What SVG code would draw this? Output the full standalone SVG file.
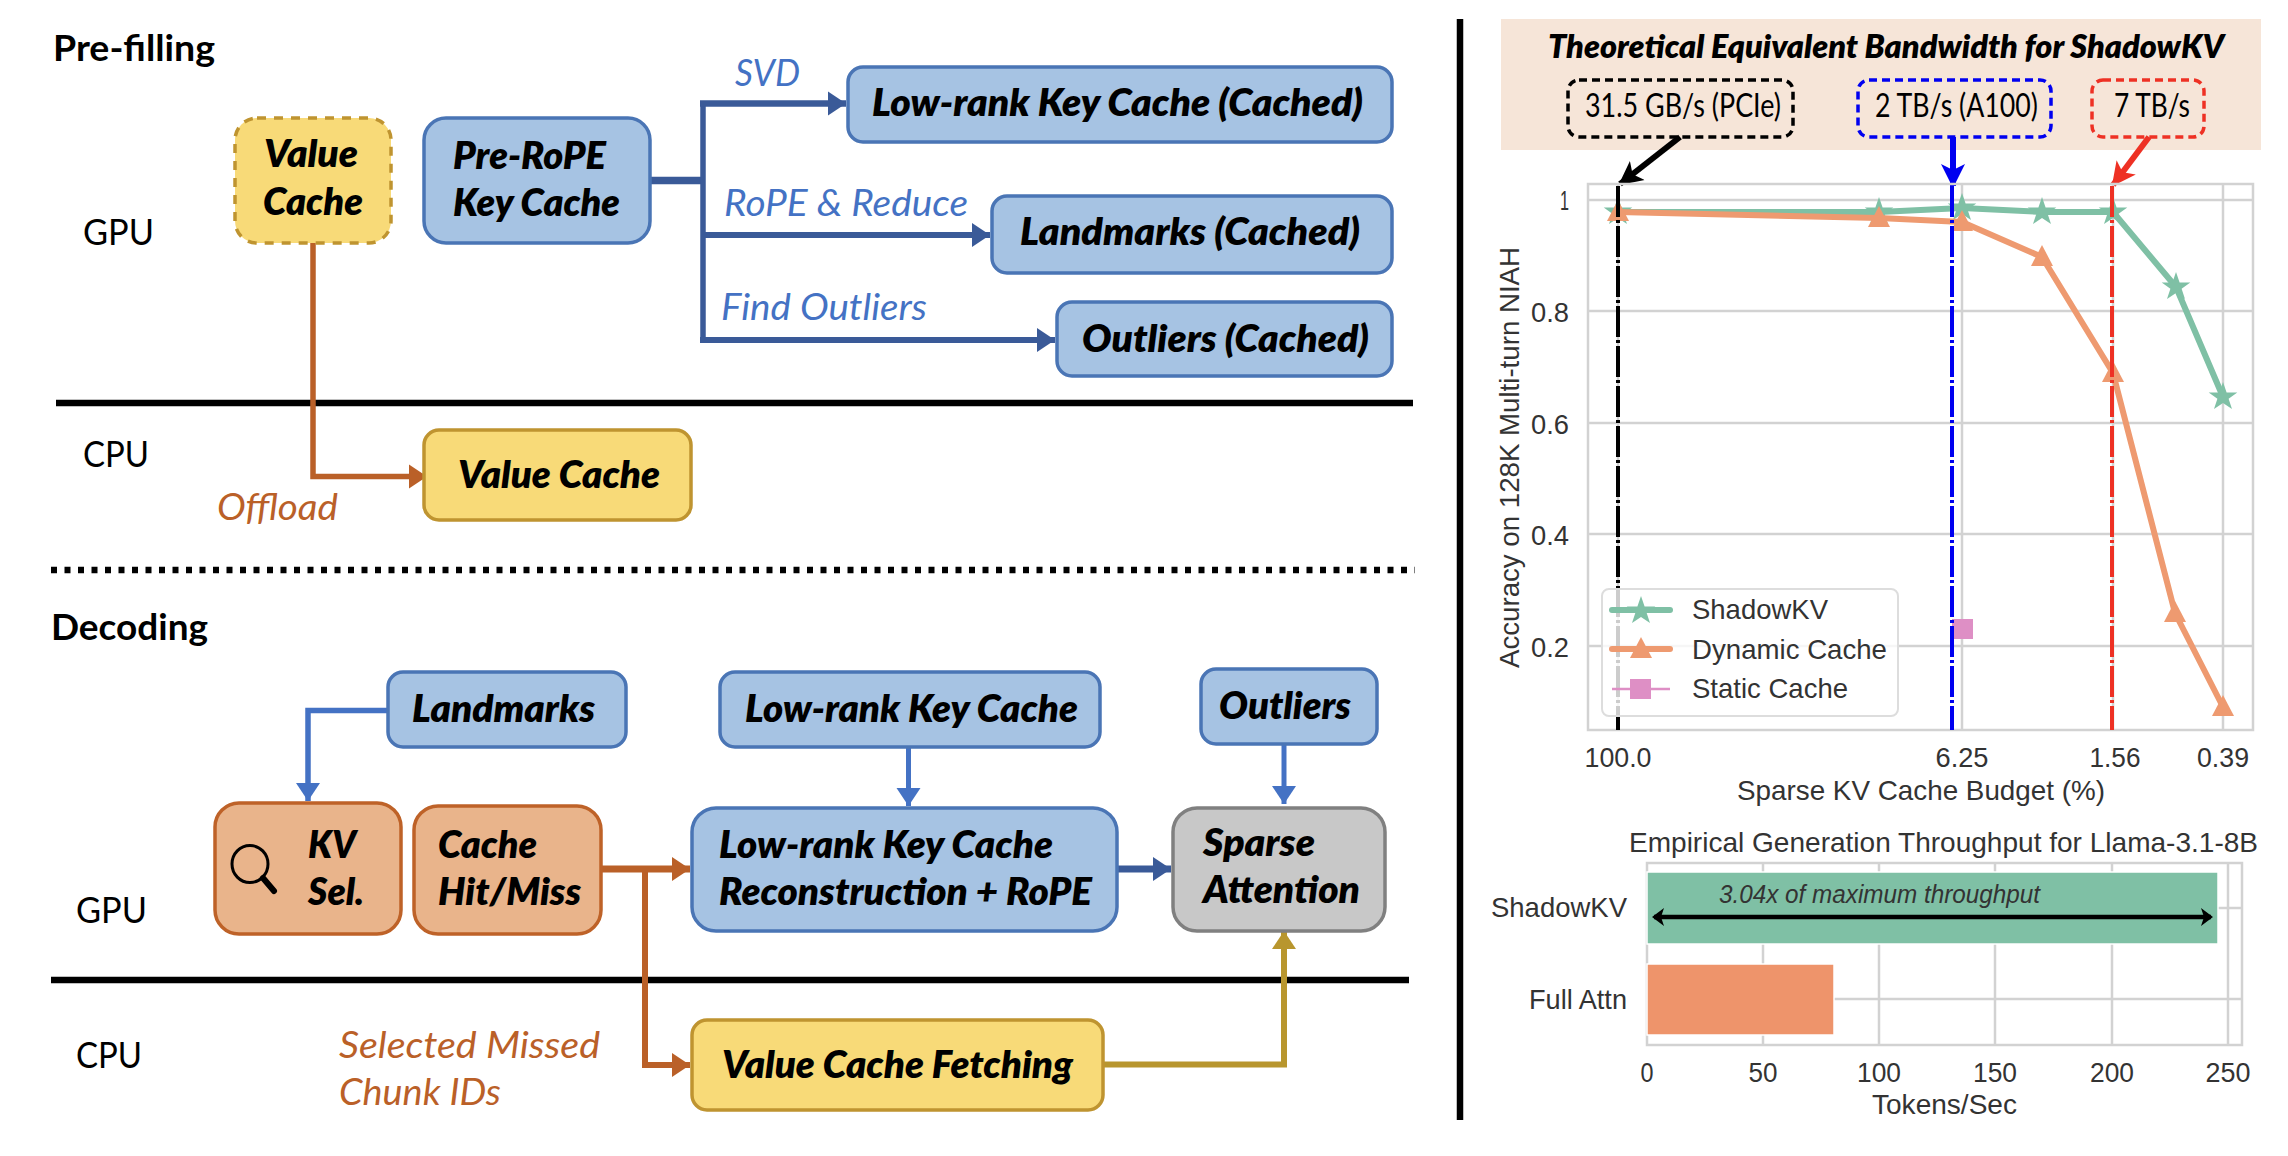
<svg xmlns="http://www.w3.org/2000/svg" width="2288" height="1156" viewBox="0 0 2288 1156">
<style>
text{font-family:Lato,"Open Sans",sans-serif;fill:#000;font-size:36px}
.h{font-weight:700}
.n{font-weight:800;font-style:italic;font-size:37px}
.l{font-style:italic;font-weight:400}
.lb{fill:#4472C4}.lo{fill:#BA6028}
.box{stroke-width:3.5}
.blue{fill:#A6C3E3;stroke:#4A75B5}
.yel{fill:#F8DA78;stroke:#BF9430}
.org{fill:#E9B48B;stroke:#BE6228}
.gry{fill:#C8C8C8;stroke:#808080}
.c{fill:none}
.sep{stroke:#000;stroke-width:6.5}
.p{font-family:"Liberation Sans",Arial,sans-serif;fill:#333;font-size:28px}
.bw{font-size:32px}
.n.bw{font-size:32px}
.grid{stroke:#d2d2d2;stroke-width:2.5;fill:none}
.dd{fill:none;stroke-width:4;stroke-dasharray:31 3 3 3}
.g{stroke:#7FC0A5;stroke-width:6;fill:none;stroke-linejoin:round}
.o{stroke:#EE9A70;stroke-width:6;fill:none;stroke-linejoin:round}
</style>
<defs>
<marker id="ab" markerUnits="userSpaceOnUse" markerWidth="20" markerHeight="26" refX="18" refY="13" orient="auto"><path d="M0 1L18 13L0 25Z" fill="#3A5A98"/></marker>
<marker id="al" markerUnits="userSpaceOnUse" markerWidth="20" markerHeight="26" refX="18" refY="13" orient="auto"><path d="M0 1L18 13L0 25Z" fill="#4472C4"/></marker>
<marker id="ao" markerUnits="userSpaceOnUse" markerWidth="20" markerHeight="26" refX="18" refY="13" orient="auto"><path d="M0 1L18 13L0 25Z" fill="#BA6028"/></marker>
<marker id="ay" markerUnits="userSpaceOnUse" markerWidth="20" markerHeight="26" refX="18" refY="13" orient="auto"><path d="M0 1L18 13L0 25Z" fill="#B8962E"/></marker>
<marker id="ak" markerUnits="userSpaceOnUse" markerWidth="26" markerHeight="26" refX="22" refY="13" orient="auto"><path d="M0 1L24 13L0 25L6 13Z" fill="#000"/></marker>
<marker id="au" markerUnits="userSpaceOnUse" markerWidth="26" markerHeight="26" refX="22" refY="13" orient="auto"><path d="M0 1L24 13L0 25L6 13Z" fill="#0000F0"/></marker>
<marker id="ar" markerUnits="userSpaceOnUse" markerWidth="26" markerHeight="26" refX="22" refY="13" orient="auto"><path d="M0 1L24 13L0 25L6 13Z" fill="#EE3124"/></marker>
<marker id="ad" markerUnits="userSpaceOnUse" markerWidth="14" markerHeight="20" refX="10" refY="10" orient="auto-start-reverse"><path d="M0 1L12 10L0 19L3 10Z" fill="#000"/></marker>
<path id="star" d="M0-15L3.6-4.6L14.3-4.6L5.6 1.8L9 12.1L0 6L-9 12.1L-5.6 1.8L-14.3-4.6L-3.6-4.6Z" fill="#7FC0A5"/>
<path id="tri" d="M0-12L11 9L-11 9Z" fill="#EE9A70"/>
</defs>

<g id="labels-left">
<text class="h" x="53" y="61" textLength="162" lengthAdjust="spacingAndGlyphs">Pre-filling</text>
<text class="h" x="51" y="640" textLength="157" lengthAdjust="spacingAndGlyphs">Decoding</text>
<text x="83" y="245" textLength="71" lengthAdjust="spacingAndGlyphs">GPU</text>
<text x="83" y="467" textLength="66" lengthAdjust="spacingAndGlyphs">CPU</text>
<text x="76" y="923" textLength="71" lengthAdjust="spacingAndGlyphs">GPU</text>
<text x="76" y="1068" textLength="66" lengthAdjust="spacingAndGlyphs">CPU</text>
<text class="l lb" x="735" y="86" textLength="65" lengthAdjust="spacingAndGlyphs">SVD</text>
<text class="l lb" x="724" y="216" textLength="244" lengthAdjust="spacingAndGlyphs">RoPE &amp; Reduce</text>
<text class="l lb" x="721" y="320" textLength="206" lengthAdjust="spacingAndGlyphs">Find Outliers</text>
<text class="l lo" x="217" y="520" textLength="121" lengthAdjust="spacingAndGlyphs">Offload</text>
<text class="l lo" x="339" y="1058" textLength="261" lengthAdjust="spacingAndGlyphs">Selected Missed</text>
<text class="l lo" x="339" y="1105" textLength="162" lengthAdjust="spacingAndGlyphs">Chunk IDs</text>
</g>

<g id="separators">
<line class="sep" x1="56" y1="403" x2="1413" y2="403"/>
<line x1="51" y1="570" x2="1415" y2="570" stroke="#000" stroke-width="6.5" stroke-dasharray="6 7.5"/>
<line class="sep" x1="51" y1="980" x2="1409" y2="980"/>
<line x1="1460" y1="19" x2="1460" y2="1120" stroke="#000" stroke-width="6.5"/>
</g>

<g id="connectors">
<path class="c" d="M650 180.500H703" stroke="#3A5A98" stroke-width="7.500"/>
<path class="c" d="M703 101V343" stroke="#3A5A98" stroke-width="5.500"/>
<path class="c" d="M700 103.500H846" stroke="#3A5A98" stroke-width="6.500" marker-end="url(#ab)"/>
<path class="c" d="M703 235H990" stroke="#3A5A98" stroke-width="6" marker-end="url(#ab)"/>
<path class="c" d="M700 340H1055" stroke="#3A5A98" stroke-width="6" marker-end="url(#ab)"/>
<path class="c" d="M313 243V476.500H427" stroke="#BA6028" stroke-width="5.500" marker-end="url(#ao)"/>
<path class="c" d="M388 710.500H308V801" stroke="#4472C4" stroke-width="5.500" marker-end="url(#al)"/>
<path class="c" d="M908.500 747V806" stroke="#4472C4" stroke-width="5" marker-end="url(#al)"/>
<path class="c" d="M1284 744V804" stroke="#4472C4" stroke-width="5" marker-end="url(#al)"/>
<path class="c" d="M601 869H690" stroke="#BA6028" stroke-width="7" marker-end="url(#ao)"/>
<path class="c" d="M645 869V1065H690" stroke="#BA6028" stroke-width="6" marker-end="url(#ao)"/>
<path class="c" d="M1117 869H1171" stroke="#3A5A98" stroke-width="7" marker-end="url(#ab)"/>
<path class="c" d="M1103 1064.500H1284V931" stroke="#B8962E" stroke-width="6" marker-end="url(#ay)"/>
</g>

<g id="value-cache-gpu"><rect class="box yel" x="235" y="118" width="156" height="125" rx="22" stroke-dasharray="9 8"/>
<text class="n" x="264" y="167" textLength="94" lengthAdjust="spacingAndGlyphs">Value</text><text class="n" x="263" y="215" textLength="100" lengthAdjust="spacingAndGlyphs">Cache</text></g>
<g id="pre-rope"><rect class="box blue" x="424" y="118" width="226" height="125" rx="22"/>
<text class="n" x="453" y="169" textLength="153" lengthAdjust="spacingAndGlyphs">Pre-RoPE</text><text class="n" x="453" y="216" textLength="167" lengthAdjust="spacingAndGlyphs">Key Cache</text></g>
<g id="lowrank-cached"><rect class="box blue" x="848" y="67" width="544" height="75" rx="15"/>
<text class="n" x="872" y="116" textLength="491" lengthAdjust="spacingAndGlyphs">Low-rank Key Cache (Cached)</text></g>
<g id="landmarks-cached"><rect class="box blue" x="992" y="196" width="400" height="77" rx="15"/>
<text class="n" x="1020" y="245" textLength="340" lengthAdjust="spacingAndGlyphs">Landmarks (Cached)</text></g>
<g id="outliers-cached"><rect class="box blue" x="1057" y="302" width="335" height="74" rx="15"/>
<text class="n" x="1082" y="352" textLength="287" lengthAdjust="spacingAndGlyphs">Outliers (Cached)</text></g>
<g id="value-cache-cpu"><rect class="box yel" x="424" y="430" width="267" height="90" rx="15"/>
<text class="n" x="458" y="488" textLength="202" lengthAdjust="spacingAndGlyphs">Value Cache</text></g>

<g id="landmarks"><rect class="box blue" x="388" y="672" width="238" height="75" rx="15"/>
<text class="n" x="412" y="722" textLength="183" lengthAdjust="spacingAndGlyphs">Landmarks</text></g>
<g id="lowrank"><rect class="box blue" x="720" y="672" width="380" height="75" rx="15"/>
<text class="n" x="745" y="722" textLength="333" lengthAdjust="spacingAndGlyphs">Low-rank Key Cache</text></g>
<g id="outliers"><rect class="box blue" x="1201" y="669" width="176" height="75" rx="15"/>
<text class="n" x="1219" y="719" textLength="132" lengthAdjust="spacingAndGlyphs">Outliers</text></g>
<g id="kv-sel"><rect class="box org" x="215" y="803" width="186" height="131" rx="24"/>
<ellipse cx="250" cy="864" rx="18" ry="18.500" fill="none" stroke="#000" stroke-width="3"/>
<line x1="263" y1="878" x2="274" y2="891" stroke="#000" stroke-width="6" stroke-linecap="round"/>
<text class="n" x="308" y="858" textLength="48" lengthAdjust="spacingAndGlyphs">KV</text><text class="n" x="308" y="905" textLength="56" lengthAdjust="spacingAndGlyphs">Sel.</text></g>
<g id="cache-hit-miss"><rect class="box org" x="414" y="806" width="187" height="128" rx="24"/>
<text class="n" x="438" y="858" textLength="99" lengthAdjust="spacingAndGlyphs">Cache</text><text class="n" x="438" y="905" textLength="143" lengthAdjust="spacingAndGlyphs">Hit/Miss</text></g>
<g id="reconstruction"><rect class="box blue" x="692" y="808" width="425" height="123" rx="24"/>
<text class="n" x="719" y="858" textLength="334" lengthAdjust="spacingAndGlyphs">Low-rank Key Cache</text><text class="n" x="719" y="905" textLength="373" lengthAdjust="spacingAndGlyphs">Reconstruction + RoPE</text></g>
<g id="sparse-attention"><rect class="box gry" x="1173" y="808" width="212" height="123" rx="24"/>
<text class="n" x="1203" y="856" textLength="112" lengthAdjust="spacingAndGlyphs">Sparse</text><text class="n" x="1203" y="903" textLength="157" lengthAdjust="spacingAndGlyphs">Attention</text></g>
<g id="value-cache-fetching"><rect class="box yel" x="692" y="1020" width="411" height="90" rx="15"/>
<text class="n" x="722" y="1078" textLength="351" lengthAdjust="spacingAndGlyphs">Value Cache Fetching</text></g>

<g id="bandwidth-panel">
<rect x="1501" y="19" width="760" height="131" fill="#F6E5D8"/>
<text class="n bw" x="1548" y="58" textLength="676" lengthAdjust="spacingAndGlyphs">Theoretical Equivalent Bandwidth for ShadowKV</text>
<rect x="1568" y="80" width="225" height="57" rx="11" fill="none" stroke="#000" stroke-width="3.500" stroke-dasharray="8 5"/>
<rect x="1858" y="80" width="193" height="57" rx="11" fill="none" stroke="#0000F0" stroke-width="3.500" stroke-dasharray="8 5"/>
<rect x="2092" y="80" width="112" height="57" rx="11" fill="none" stroke="#EE3124" stroke-width="3.500" stroke-dasharray="8 5"/>
<text class="bw" x="1585" y="117" textLength="196" lengthAdjust="spacingAndGlyphs">31.5 GB/s (PCIe)</text>
<text class="bw" x="1875" y="117" textLength="163" lengthAdjust="spacingAndGlyphs">2 TB/s (A100)</text>
<text class="bw" x="2114" y="117" textLength="76" lengthAdjust="spacingAndGlyphs">7 TB/s</text>
<path class="c" d="M1680 137L1620 184" stroke="#000" stroke-width="6" marker-end="url(#ak)"/>
<path class="c" d="M1953 137V186" stroke="#0000F0" stroke-width="6" marker-end="url(#au)"/>
<path class="c" d="M2149 137L2113 185" stroke="#EE3124" stroke-width="6" marker-end="url(#ar)"/>
</g>

<g id="line-chart">
<rect class="grid" x="1588" y="184" width="665" height="546"/>
<path class="grid" d="M1588 200H2253M1588 311H2253M1588 423H2253M1588 534H2253M1588 646H2253M1962 184V730M2223 184V730M1618 184V730M2113 184V730"/>
<path class="g" d="M1618 212H1879L1962 208L2042 212H2113L2176 287L2223 397"/>
<use href="#star" x="1618" y="212"/><use href="#star" x="1879" y="212"/><use href="#star" x="1962" y="208"/><use href="#star" x="2042" y="212"/><use href="#star" x="2113" y="212"/><use href="#star" x="2176" y="287"/><use href="#star" x="2223" y="397"/>
<path class="o" d="M1618 212L1879 218L1962 222L2042 257L2113 373L2175 613L2223 707"/>
<use href="#tri" x="1618" y="212"/><use href="#tri" x="1879" y="218"/><use href="#tri" x="1962" y="222"/><use href="#tri" x="2042" y="257"/><use href="#tri" x="2113" y="373"/><use href="#tri" x="2175" y="613"/><use href="#tri" x="2223" y="707"/>
<rect x="1952" y="619" width="21" height="20" fill="#DE8FC5"/>
<line class="dd" x1="1618" y1="186" x2="1618" y2="730" stroke="#000"/>
<line class="dd" x1="1952" y1="186" x2="1952" y2="730" stroke="#0000F0"/>
<line class="dd" x1="2112" y1="186" x2="2112" y2="730" stroke="#EE3124"/>
<rect x="1602" y="589" width="296" height="127" rx="7" fill="#fff" fill-opacity=".8" stroke="#ddd" stroke-width="2"/>
<line class="g" x1="1612" y1="610" x2="1670" y2="610" stroke-linecap="round"/><use href="#star" x="1641" y="611"/>
<line class="o" x1="1612" y1="649" x2="1670" y2="649" stroke-linecap="round"/><use href="#tri" x="1641" y="649"/>
<line x1="1612" y1="689" x2="1670" y2="689" stroke="#DE8FC5" stroke-width="2.500"/><rect x="1630" y="679" width="21" height="20" fill="#DE8FC5"/>
<text class="p" x="1692" y="619" textLength="136" lengthAdjust="spacingAndGlyphs">ShadowKV</text>
<text class="p" x="1692" y="659" textLength="195" lengthAdjust="spacingAndGlyphs">Dynamic Cache</text>
<text class="p" x="1692" y="698" textLength="156" lengthAdjust="spacingAndGlyphs">Static Cache</text>
<text class="p" x="1569" y="210" text-anchor="end" textLength="9" lengthAdjust="spacingAndGlyphs">1</text>
<text class="p" x="1569" y="322" text-anchor="end" textLength="38" lengthAdjust="spacingAndGlyphs">0.8</text>
<text class="p" x="1569" y="434" text-anchor="end" textLength="38" lengthAdjust="spacingAndGlyphs">0.6</text>
<text class="p" x="1569" y="545" text-anchor="end" textLength="38" lengthAdjust="spacingAndGlyphs">0.4</text>
<text class="p" x="1569" y="657" text-anchor="end" textLength="38" lengthAdjust="spacingAndGlyphs">0.2</text>
<text class="p" x="1618" y="767" text-anchor="middle" textLength="67" lengthAdjust="spacingAndGlyphs">100.0</text>
<text class="p" x="1962" y="767" text-anchor="middle" textLength="53" lengthAdjust="spacingAndGlyphs">6.25</text>
<text class="p" x="2115" y="767" text-anchor="middle" textLength="51" lengthAdjust="spacingAndGlyphs">1.56</text>
<text class="p" x="2223" y="767" text-anchor="middle" textLength="52" lengthAdjust="spacingAndGlyphs">0.39</text>
<text class="p" x="1737" y="800" textLength="368" lengthAdjust="spacingAndGlyphs">Sparse KV Cache Budget (%)</text>
<text class="p" transform="translate(1519 668) rotate(-90)" x="0" y="0" textLength="421" lengthAdjust="spacingAndGlyphs">Accuracy on 128K Multi-turn NIAH</text>
</g>

<g id="bar-chart">
<text class="p" x="1629" y="852" textLength="629" lengthAdjust="spacingAndGlyphs">Empirical Generation Throughput for Llama-3.1-8B</text>
<rect class="grid" x="1647" y="863" width="595" height="182"/>
<path class="grid" d="M1763 863V1045M1879 863V1045M1995 863V1045M2112 863V1045M2228 863V1045M1647 908H2242M1647 999H2242"/>
<rect x="1647" y="872" width="571" height="72" fill="#7FC0A5" stroke="#fff" stroke-width="1.500"/>
<rect x="1647" y="964" width="187" height="71" fill="#EE946B" stroke="#fff" stroke-width="1.500"/>
<text class="p" x="1719" y="903" style="font-style:italic;font-size:26px" textLength="321" lengthAdjust="spacingAndGlyphs">3.04x of maximum throughput</text>
<line x1="1654" y1="917" x2="2211" y2="917" stroke="#000" stroke-width="4.500" marker-start="url(#ad)" marker-end="url(#ad)"/>
<text class="p" x="1491" y="917" textLength="136" lengthAdjust="spacingAndGlyphs">ShadowKV</text>
<text class="p" x="1529" y="1009" textLength="98" lengthAdjust="spacingAndGlyphs">Full Attn</text>
<text class="p" x="1647" y="1082" text-anchor="middle" textLength="13" lengthAdjust="spacingAndGlyphs">0</text>
<text class="p" x="1763" y="1082" text-anchor="middle" textLength="29" lengthAdjust="spacingAndGlyphs">50</text>
<text class="p" x="1879" y="1082" text-anchor="middle" textLength="44" lengthAdjust="spacingAndGlyphs">100</text>
<text class="p" x="1995" y="1082" text-anchor="middle" textLength="44" lengthAdjust="spacingAndGlyphs">150</text>
<text class="p" x="2112" y="1082" text-anchor="middle" textLength="44" lengthAdjust="spacingAndGlyphs">200</text>
<text class="p" x="2228" y="1082" text-anchor="middle" textLength="45" lengthAdjust="spacingAndGlyphs">250</text>
<text class="p" x="1872" y="1114" textLength="145" lengthAdjust="spacingAndGlyphs">Tokens/Sec</text>
</g>
</svg>
